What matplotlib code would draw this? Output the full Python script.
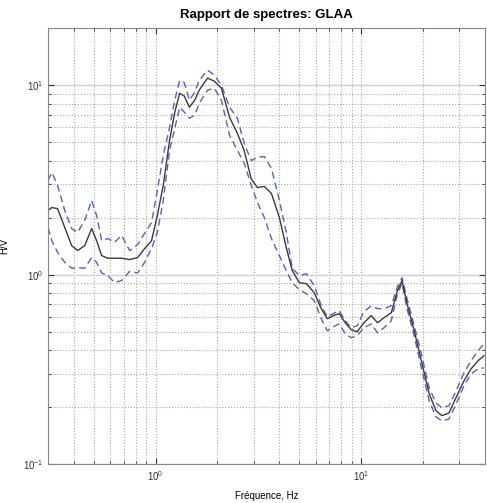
import matplotlib.pyplot as plt
import numpy as np

# frequencies (Hz)
freq = [0.30, 0.313, 0.334, 0.362, 0.391, 0.418, 0.452, 0.489, 0.517, 0.547,
        0.585, 0.632, 0.684, 0.748, 0.818, 0.884, 0.956, 1.02, 1.09, 1.17,
        1.24, 1.31, 1.38, 1.46, 1.55, 1.63, 1.79, 1.93, 2.09, 2.29,
        2.50, 2.70, 2.92, 3.13, 3.38, 3.66, 4.00, 4.32, 4.62, 5.00,
        5.41, 5.91, 6.39, 6.84, 7.31, 7.82, 8.36, 8.94, 9.56, 10.3,
        11.2, 12.0, 12.9, 14.0, 15.0, 15.8, 16.7, 18.1, 19.6, 21.4,
        23.1, 24.7, 26.7, 28.9, 31.6, 34.2, 37.0, 39.5]

# mean H/V ratio
hv_mean = [2.18, 2.26, 2.23, 1.77, 1.42, 1.34, 1.42, 1.75, 1.51, 1.26,
           1.22, 1.22, 1.22, 1.20, 1.23, 1.37, 1.51, 2.05, 2.96, 5.12,
           7.2, 9.07, 8.75, 7.65, 8.33, 9.41, 10.9, 10.5, 9.64, 6.77,
           5.57, 4.5, 3.2, 2.88, 2.92, 2.68, 2.0, 1.39, 1.05, 0.907,
           0.896, 0.803, 0.661, 0.585, 0.607, 0.622, 0.557, 0.512, 0.499, 0.557,
           0.607, 0.557, 0.592, 0.629, 0.823, 0.929, 0.703, 0.505, 0.351, 0.235,
           0.191, 0.180, 0.186, 0.224, 0.275, 0.318, 0.351, 0.373]

# mean + std
hv_up = [3.14, 3.46, 2.96, 2.18, 1.75, 1.67, 1.93, 2.46, 2.05, 1.51,
         1.55, 1.48, 1.61, 1.34, 1.44, 1.65, 1.88, 2.78, 4.26, 6.0,
         8.33, 10.6, 10.3, 8.33, 9.18, 10.6, 12.0, 11.3, 10.0, 7.65,
         6.69, 4.9, 4.0, 4.16, 4.2, 3.64, 2.46, 1.67, 1.08, 0.99,
         1.01, 0.875, 0.685, 0.60, 0.622, 0.645, 0.571, 0.524, 0.537, 0.637,
         0.685, 0.661, 0.661, 0.685, 0.864, 0.964, 0.747, 0.537, 0.382, 0.252,
         0.210, 0.198, 0.203, 0.243, 0.303, 0.351, 0.396, 0.431]

# mean - std
hv_low = [1.77, 1.51, 1.31, 1.16, 1.08, 1.09, 1.08, 1.23, 1.16, 1.02,
          0.99, 0.907, 0.93, 1.04, 1.02, 1.16, 1.37, 1.67, 2.46, 4.53,
          5.92, 7.65, 7.2, 6.69, 6.94, 8.03, 9.41, 9.64, 8.33, 5.44,
          4.53, 3.87, 2.96, 2.4, 2.0, 1.55, 1.26, 1.05, 0.907, 0.833,
          0.793, 0.729, 0.585, 0.505, 0.53, 0.55, 0.488, 0.464, 0.476, 0.524,
          0.55, 0.493, 0.524, 0.571, 0.793, 0.896, 0.661, 0.476, 0.322, 0.216,
          0.177, 0.169, 0.173, 0.207, 0.259, 0.299, 0.318, 0.322]

plt.rcParams['font.family'] = ['Liberation Sans', 'DejaVu Sans']

fig = plt.figure(figsize=(4.87, 5.03), dpi=100)
ax = fig.add_axes([0.0986, 0.0775, 0.8974, 0.8665])

ax.plot(freq, hv_up, '--', color='#5a60b4', lw=1.0, dashes=(5, 3))
ax.plot(freq, hv_low, '--', color='#5a60b4', lw=1.0, dashes=(5, 3))
ax.plot(freq, hv_mean, '-', color='#3a3a3a', lw=1.0)

ax.set_xscale('log')
ax.set_yscale('log')
ax.set_xlim(0.3, 40)
ax.set_ylim(0.1, 20)

ax.grid(True, which='both', ls=':', color='#a8a8a8', lw=0.8)
ax.yaxis.grid(True, which='major', ls='-', color='#d0d0d0', lw=1.0)

ax.tick_params(which='both', direction='in', top=True, right=True,
               labelsize=7, colors='#333333')
ax.tick_params(which='major', length=4)
ax.tick_params(which='minor', length=2)
ax.xaxis.set_minor_formatter(plt.NullFormatter())
ax.yaxis.set_minor_formatter(plt.NullFormatter())
for s in ax.spines.values():
    s.set_color('#888888')

ax.set_title('Rapport de spectres: GLAA', fontsize=9.5, fontweight='bold', pad=7)
ax.set_xlabel('Fréquence, Hz', fontsize=7, labelpad=6)
ax.set_ylabel('H/V', fontsize=7, labelpad=10)

plt.savefig('out.png', dpi=100)
